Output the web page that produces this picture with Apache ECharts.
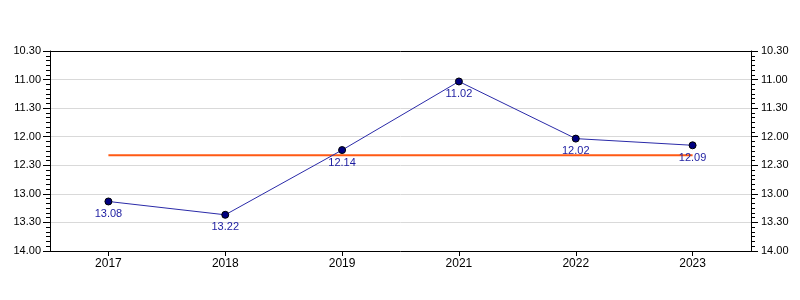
<!DOCTYPE html>
<html>
<head>
<meta charset="utf-8">
<script src="https://cdn.jsdelivr.net/npm/echarts@6/dist/echarts.min.js"></script>
<style>html,body{margin:0;padding:0;background:#fff}#c{width:800px;height:300px}</style>
</head>
<body>
<div id="c"></div>
<script>
// Data (times in seconds; labels shown as minutes.seconds)
const categories = ['2017', '2018', '2019', '2021', '2022', '2023'];
const timesSeconds = [788, 802, 734, 662, 722, 729]; // 13.08, 13.22, 12.14, 11.02, 12.02, 12.09
const averageSeconds = 739.5; // red reference line (~12.19.5)
const yMin = 630, yMax = 840, yStep = 30; // 10.30 .. 14.00

function fmt(v) {
  const m = Math.floor(Math.round(v) / 60);
  const s = Math.round(v) - m * 60;
  return m + '.' + (s < 10 ? '0' : '') + s;
}

const font = 'Liberation Sans, Arial, sans-serif';
const chart = echarts.init(document.getElementById('c'), null, {renderer: 'canvas'});

function yAxis(pos) {
  return {
    type: 'value', position: pos, inverse: true,
    min: yMin, max: yMax, interval: yStep,
    axisLine: {show: true, lineStyle: {color: '#000', width: 1}},
    axisTick: {show: true, length: 7, lineStyle: {color: '#000'}},
    minorTick: {show: true, splitNumber: 6, length: 4, lineStyle: {color: '#000'}},
    axisLabel: {color: '#000', fontFamily: font, fontSize: 11, margin: pos === 'left' ? 9 : 10, formatter: fmt},
    splitLine: {show: pos === 'left', lineStyle: {color: '#d9d9d9', width: 1}}
  };
}

chart.setOption({
  animation: false,
  grid: {left: 50, right: 49, top: 51, bottom: 49, containLabel: false},
  xAxis: [{
    type: 'category', data: categories, position: 'bottom', boundaryGap: true,
    axisLine: {show: true, lineStyle: {color: '#000'}},
    axisTick: {show: true, alignWithLabel: true, length: 5, lineStyle: {color: '#000'}},
    axisLabel: {color: '#000', fontFamily: font, fontSize: 12, margin: 7},
    splitLine: {show: false}
  }, {
    type: 'category', data: categories, position: 'top',
    axisLine: {show: true, lineStyle: {color: '#000'}},
    axisTick: {show: false}, axisLabel: {show: false}, splitLine: {show: false}
  }],
  yAxis: [yAxis('left'), yAxis('right')],
  series: [{
    type: 'line',
    data: categories.map(() => averageSeconds),
    symbol: 'none',
    lineStyle: {color: '#ff5a14', width: 2},
    z: 2, silent: true
  }, {
    type: 'line',
    data: timesSeconds,
    symbol: 'circle', symbolSize: 7,
    itemStyle: {color: '#000080', borderColor: '#000', borderWidth: 1},
    lineStyle: {color: '#2a2aa8', width: 1},
    label: {
      show: true, position: 'bottom', distance: 3,
      color: '#1c1ca0', fontFamily: font, fontSize: 11,
      formatter: p => fmt(p.value)
    },
    z: 3
  }]
});
</script>
</body>
</html>
